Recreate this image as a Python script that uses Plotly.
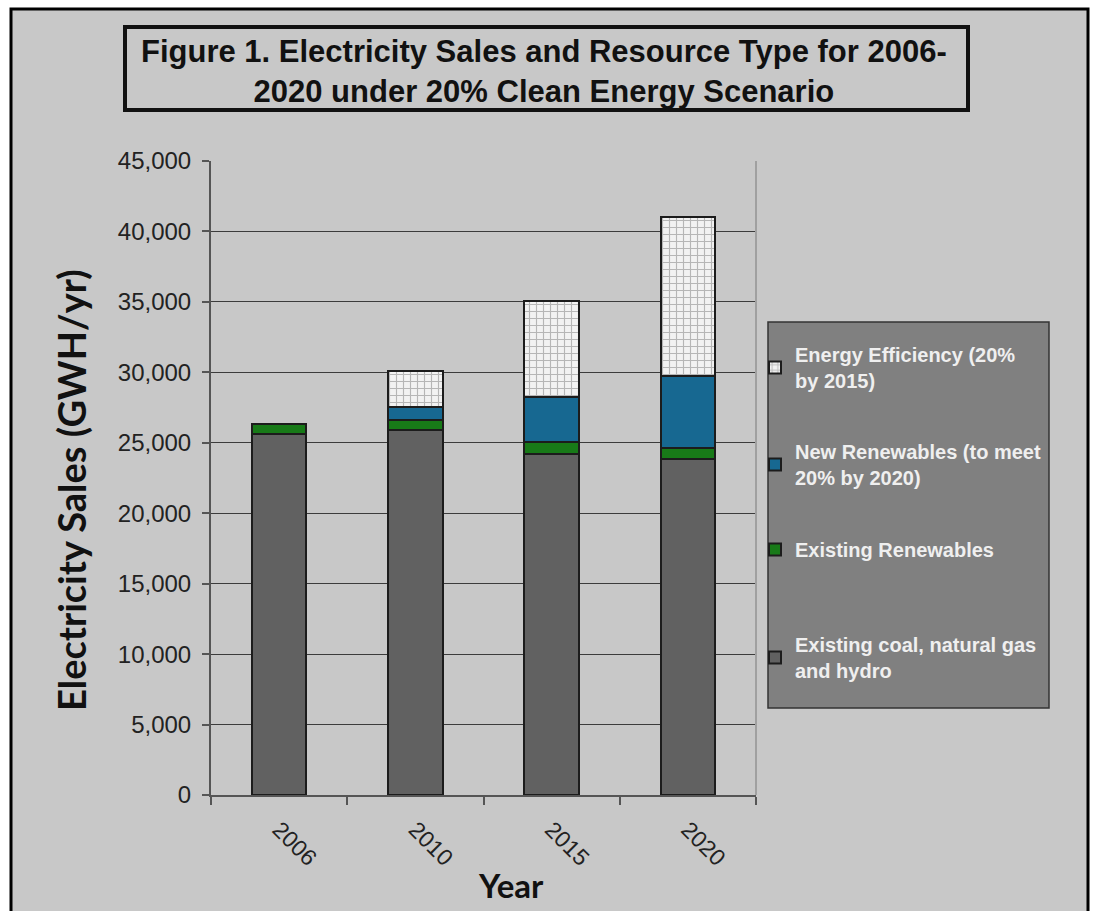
import plotly.graph_objects as go

years = ["2006", "2010", "2015", "2020"]
coal_gas_hydro = [25600, 25880, 24220, 23850]
existing_renew = [700, 730, 810, 780]
new_renew = [0, 950, 3230, 5140]
efficiency = [0, 2550, 6770, 11280]

names = [
    "<b>Existing coal, natural gas<br>and hydro</b>",
    "<b>Existing Renewables</b>",
    "<b>New Renewables (to meet<br>20% by 2020)</b>",
    "<b>Energy Efficiency (20%<br>by 2015)</b>",
]

# plot area in pixels
L, R, T, B = 211, 756, 161, 795
W, H = 1093, 911
PW, PH = R - L, B - T


def px(x):
    return (x - L) / PW


def py(y):
    return (B - y) / PH


fig = go.Figure()
line = dict(color="#1c1c1c", width=2)
fig.add_bar(x=years, y=coal_gas_hydro, name=names[0], legend="legend4",
            marker=dict(color="#616161", line=line))
fig.add_bar(x=years, y=existing_renew, name=names[1], legend="legend3",
            marker=dict(color="#187a18", line=line))
fig.add_bar(x=years, y=new_renew, name=names[2], legend="legend2",
            marker=dict(color="#176891", line=line))
fig.add_bar(x=years, y=efficiency, name=names[3], legend="legend",
            marker=dict(color="#f0f0f0", line=line,
                        pattern=dict(shape="+", bgcolor="#f2f2f2", fgcolor="#7a7a7a",
                                     size=7, solidity=0.3)))

legfont = dict(family="Liberation Sans, Arial", size=20, color="#efefef")


def leg(ytop):
    return dict(x=px(755), xanchor="left", y=py(ytop), yanchor="top",
                bgcolor="rgba(0,0,0,0)", borderwidth=0, font=legfont,
                itemwidth=30, itemclick=False, itemdoubleclick=False)


fig.update_layout(
    width=W, height=H,
    margin=dict(l=L, r=W - R, t=T, b=H - B, pad=0),
    paper_bgcolor="white",
    plot_bgcolor="#c8c8c8",
    barmode="stack",
    bargap=0.6,
    showlegend=True,
    legend=leg(335),
    legend2=leg(432),
    legend3=leg(530),
    legend4=leg(625),
    font=dict(family="Liberation Sans, Arial", color="#222"),
    xaxis=dict(type="category", tickson="boundaries", ticks="outside", ticklen=8,
               tickcolor="#555", tickwidth=1.5, showline=True, linecolor="#555", linewidth=2,
               tickangle=45, tickfont=dict(size=23, color="#222"), automargin=False,
               ticklabelstandoff=10, showgrid=False),
    yaxis=dict(range=[0, 45000], dtick=5000, tickformat=",", ticks="outside", ticklen=7,
               tickcolor="#555", tickwidth=1.5, showline=True, linecolor="#555", linewidth=2,
               gridcolor="#3c3c3c", gridwidth=1, tickfont=dict(size=24, color="#222"),
               automargin=False, zeroline=False, ticklabelstandoff=6),
    shapes=[
        # outer frame
        dict(type="rect", xref="paper", yref="paper", x0=px(11), x1=px(1088), y0=py(9), y1=py(930),
             fillcolor="#c8c8c8", line=dict(color="black", width=3), layer="below"),
        # title box
        dict(type="rect", xref="paper", yref="paper", x0=px(125), x1=px(968), y0=py(27), y1=py(110),
             fillcolor="rgba(0,0,0,0)", line=dict(color="#111", width=4)),
        # plot area right border
        dict(type="line", xref="paper", yref="paper", x0=1, x1=1, y0=0, y1=1,
             line=dict(color="#a0a0a0", width=2)),
        # legend box
        dict(type="rect", xref="paper", yref="paper", x0=px(768), x1=px(1049), y0=py(322), y1=py(708),
             fillcolor="#808080", line=dict(color="#333", width=1.5), layer="below"),
    ],
    annotations=[
        dict(text="<b>Figure 1. Electricity Sales and Resource Type for 2006-<br>2020 under 20% Clean Energy Scenario</b>",
             xref="paper", yref="paper", x=px(544), y=py(71), xanchor="center", yanchor="middle",
             showarrow=False, font=dict(family="Liberation Sans, Arial", size=31, color="#111")),
        dict(text="<b>Electricity Sales (GWH/yr)</b>", textangle=-90,
             xref="paper", yref="paper", x=px(71), y=py(490), xanchor="center", yanchor="middle",
             showarrow=False, font=dict(family="Lato, Open Sans", size=38, color="#111")),
        dict(text="<b>Year</b>", xref="paper", yref="paper", x=px(511), y=py(885),
             xanchor="center", yanchor="middle", showarrow=False,
             font=dict(family="Lato, Open Sans", size=33, color="#111")),
    ],
)

fig.write_html("out.html", config={"displayModeBar": False},
               post_script="document.body.style.margin='0';document.body.style.overflow='hidden';")
